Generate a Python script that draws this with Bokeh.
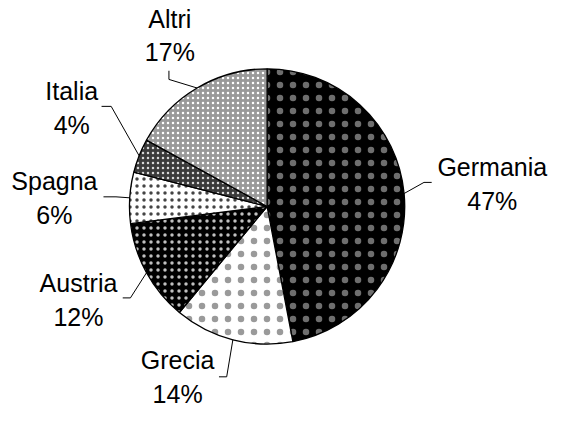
import math
from bokeh.plotting import figure
from bokeh.models import ColumnDataSource, Range1d
from bokeh.core.properties import value
from bokeh.embed import file_html
from bokeh.resources import INLINE

# ---- data ----
countries = ["Germania", "Grecia", "Austria", "Spagna", "Italia", "Altri"]
shares = [47, 14, 12, 6, 4, 17]

# ---- styles (one per slice) ----
fill_colors = ["#000000", "#ffffff", "#000000", "#ffffff", "#3a3a3a", "#9a9a9a"]
hatch_colors = ["#6e6e6e", "#9a9a9a", "#c0c0c0", "#444444", "#d8d8d8", "#ffffff"]
hatch_patterns = ["dot", "dot", "dot", "dot", "dot", "dot"]
hatch_scales = [13, 13, 7, 7, 5, 5]
hatch_weights = [0.3, 0.3, 0.6, 0.6, 0.9, 1.0]

# ---- layout (reference pixel coordinates, y measured downward) ----
W, H = 556, 410
S = H / 426.0
cx, cy, r = 277, 218, 143
label_pos = [(511, 177), (184, 378), (81, 298), (56, 192), (74, 98), (176, 23)]
line_gap = 35
leader_elbow = [(440, 193), (235, 395), (135, 313), (120, 208), (115, 114), (175, 86)]
leader_end = [(448, 193), (227, 395), (127, 313), (107, 208), (105, 114), (175, 77)]


def fy(y):
    return 426 - y


total = float(sum(shares))
starts, ends, mids = [], [], []
cum = 0.0
for s in shares:
    a0 = math.pi / 2 - 2 * math.pi * cum / total
    cum += s
    a1 = math.pi / 2 - 2 * math.pi * cum / total
    starts.append(a0)
    ends.append(a1)
    mids.append((a0 + a1) / 2)

src = ColumnDataSource(dict(
    x=[cx] * len(shares), y=[fy(cy)] * len(shares),
    start=starts, end=ends,
    fill=fill_colors, hcol=hatch_colors, hpat=hatch_patterns,
    hscale=hatch_scales, hw=hatch_weights,
))

p = figure(width=W, height=H, output_backend="svg", toolbar_location=None,
           x_range=Range1d(0, W / S), y_range=Range1d(-4, H / S - 4),
           min_border=0)
p.axis.visible = False
p.grid.visible = False
p.outline_line_color = None
p.background_fill_color = "white"
p.border_fill_color = "white"

p.wedge(x="x", y="y", radius=r, start_angle="start", end_angle="end",
        direction="clock", source=src,
        fill_color="fill", hatch_color="hcol", hatch_pattern="hpat",
        hatch_scale="hscale", hatch_weight="hw",
        line_color="black", line_width=1.3)

xs, ys = [], []
for i, a in enumerate(mids):
    ex = cx + r * math.cos(a)
    ey = fy(cy) + r * math.sin(a)
    xs.append([ex, leader_elbow[i][0], leader_end[i][0]])
    ys.append([ey, fy(leader_elbow[i][1]), fy(leader_end[i][1])])
p.multi_line(xs=xs, ys=ys, line_color="black", line_width=1)

pcts = ["%d%%" % s for s in shares]
lx = [lp[0] for lp in label_pos]
ly1 = [fy(lp[1]) for lp in label_pos]
ly2 = [fy(lp[1] + line_gap) for lp in label_pos]
for ty, tt in ((ly1, countries), (ly2, pcts)):
    p.text(x=lx, y=ty, text=tt, text_align="center", text_baseline="middle",
           text_font=value("Liberation Sans"), text_font_size="25px",
           text_color="black")

open("out.html", "w").write(file_html(p, INLINE))
